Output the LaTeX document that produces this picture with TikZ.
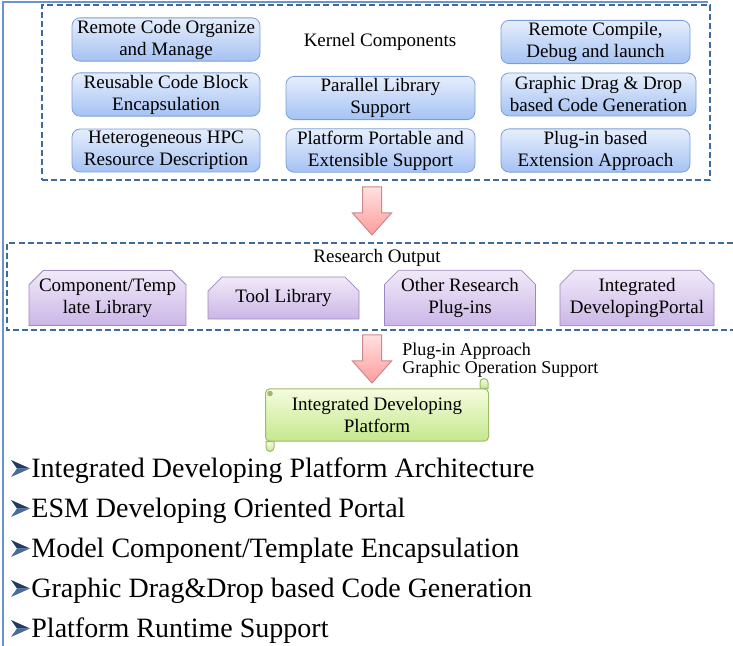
\documentclass[tikz,border=0pt]{standalone}
\usepackage{fontspec}
\setmainfont{Liberation Serif}
\usepackage{tikz}
\usetikzlibrary{fit, positioning, shapes, calc}
\definecolor{framblue}{HTML}{6A93CF}
\definecolor{dashblue}{HTML}{3F6A9C}
\definecolor{kline}{HTML}{7C9ED6}
\definecolor{ktop}{HTML}{E6EEFC}
\definecolor{kbot}{HTML}{A5C2F3}
\definecolor{pline}{HTML}{9D89BF}
\definecolor{ptop}{HTML}{F1EAF9}
\definecolor{pbot}{HTML}{CBB6E6}
\definecolor{gline}{HTML}{9FBA6C}
\definecolor{gtop}{HTML}{F5FCDF}
\definecolor{gbot}{HTML}{C4E88C}
\definecolor{aline}{HTML}{C98A8A}
\definecolor{atop}{HTML}{FFE0E0}
\definecolor{abot}{HTML}{FF9C9C}
\definecolor{bulletblue}{HTML}{1F3A63}
\definecolor{bulletlight}{HTML}{4A6C9C}
\tikzset{
  boxfont/.style = {font=\fontsize{9.5}{11}\selectfont},
  kbox/.style = {boxfont, draw=kline, rounded corners=4pt, top color=ktop, bottom color=kbot,
    minimum width=#1, minimum height=21.5pt, align=center, inner sep=1pt},
  kbox/.default = 94.5pt,
  pbox/.style = {boxfont, draw=pline, chamfered rectangle, chamfered rectangle corners={north west, north east},
    chamfered rectangle xsep=4pt, top color=ptop, bottom color=pbot,
    minimum width=75.5pt, minimum height=21pt, align=center, inner sep=1pt},
  groupbox/.style = {draw=dashblue, dash pattern=on 3pt off 1.6pt, line width=0.6pt, inner sep=0pt},
  arrowfill/.style = {draw=aline, line width=0.5pt, top color=atop, bottom color=abot},
  scrollfill/.style = {draw=gline, line width=0.5pt, top color=gtop, bottom color=gbot},
  itemtext/.style = {font=\fontsize{14}{16}\selectfont, anchor=base west, inner sep=0pt},
}
\NewDocumentCommand{\blockarrow}{m}{%
  \draw[arrowfill] (#1) ++(-9.5,0) -- ++(0,26) -- ++(-10,0) -- ++(19.5,22) -- ++(19.5,-22) -- ++(-10,0) -- ++(0,-26) -- cycle;
}
\NewDocumentCommand{\bulletmark}{m}{%
  \fill[bulletblue] (#1) ++(0,-17) -- ++(19,8.5) -- ++(-13,0) -- cycle;
  \fill[bulletlight] (#1) -- ++(19,-8.5) -- ++(-13,0) -- cycle;
}
\begin{document}
\begin{tikzpicture}[x=0.5pt, y=-0.5pt]
\useasboundingbox (0,0) rectangle (733,646);
\draw[framblue, line width=0.9pt] (3,646) |- (708,2);

% kernel components
\node (kernel) [groupbox, fit={(42,5) (710,180)}] {};
\node (klabel) [boxfont] at (380,42) {Kernel Components};
\node (k11) [kbox=94pt] at (166,39.5) {Remote Code Organize\\and Manage};
\node (k21) [kbox=94pt] at (166,94.5) {Reusable Code Block\\Encapsulation};
\node (k31) [kbox=94pt] at (166,150.5) {Heterogeneous HPC\\Resource Description};
\node (k22) [kbox] at (380.5,98) {Parallel Library\\Support};
\node (k32) [kbox] at (380.5,150.5) {Platform Portable and\\Extensible Support};
\node (k13) [kbox] at (595.5,42) {Remote Compile,\\Debug and launch};
\node (k23) [kbox=97.5pt] at (598.5,94.5) {Graphic Drag \& Drop\\based Code Generation};
\node (k33) [kbox] at (595.5,150.5) {Plug-in based\\Extension Approach};

\coordinate (arrA) at (372,187);
\blockarrow{arrA}

% research output
\coordinate (research) at (7,243);
\draw[groupbox] (733,243) -- (research) -- (7,330) -- (733,330);
\node (rlabel) [boxfont] at (377,258) {Research Output};
\node (r1) [pbox] at (107.5,298) {Component/Temp\\late Library};
\node (r2) [pbox] at (283.5,298) {Tool Library};
\node (r3) [pbox] at (460,298) {Other Research\\Plug-ins};
\node (r4) [pbox] at (637,298) {Integrated\\DevelopingPortal};

\coordinate (arrB) at (372,335);
\blockarrow{arrB}
\node (alabel) [font=\fontsize{9}{7.6}\selectfont, align=left, anchor=west, inner sep=0pt] at (402,360)
  {Plug-in Approach\\Graphic Operation Support};

% platform scroll
\node (idp) [boxfont, scrollfill, rounded corners=2pt, minimum width=111.5pt, minimum height=26pt, align=center] at (377,415)
  {Integrated Developing\\Platform};
\draw[scrollfill] ($(idp.north east)+(-9,0)$) -- ++(0,-6) arc[start angle=180, end angle=0, radius=2pt] -- ++(0,6) -- cycle;
\draw[scrollfill] ($(idp.south west)+(1,0)$) -- ++(0,6) arc[start angle=180, end angle=360, radius=2pt] -- ++(0,-6) -- cycle;
\fill[gline] ($(idp.north west)+(5,5)$) circle (1.4pt);

% list
\foreach \txt [count=\i] in {Integrated Developing Platform Architecture, ESM Developing Oriented Portal,
    Model Component/Template Encapsulation, Graphic Drag\&Drop based Code Generation, Platform Runtime Support}
{
  \coordinate (bul\i) at (11,{477+40*(\i-1)});
  \bulletmark{bul\i}
  \node (item\i) [itemtext] at (31,{477+40*(\i-1)}) {\txt};
}
\end{tikzpicture}
\end{document}
